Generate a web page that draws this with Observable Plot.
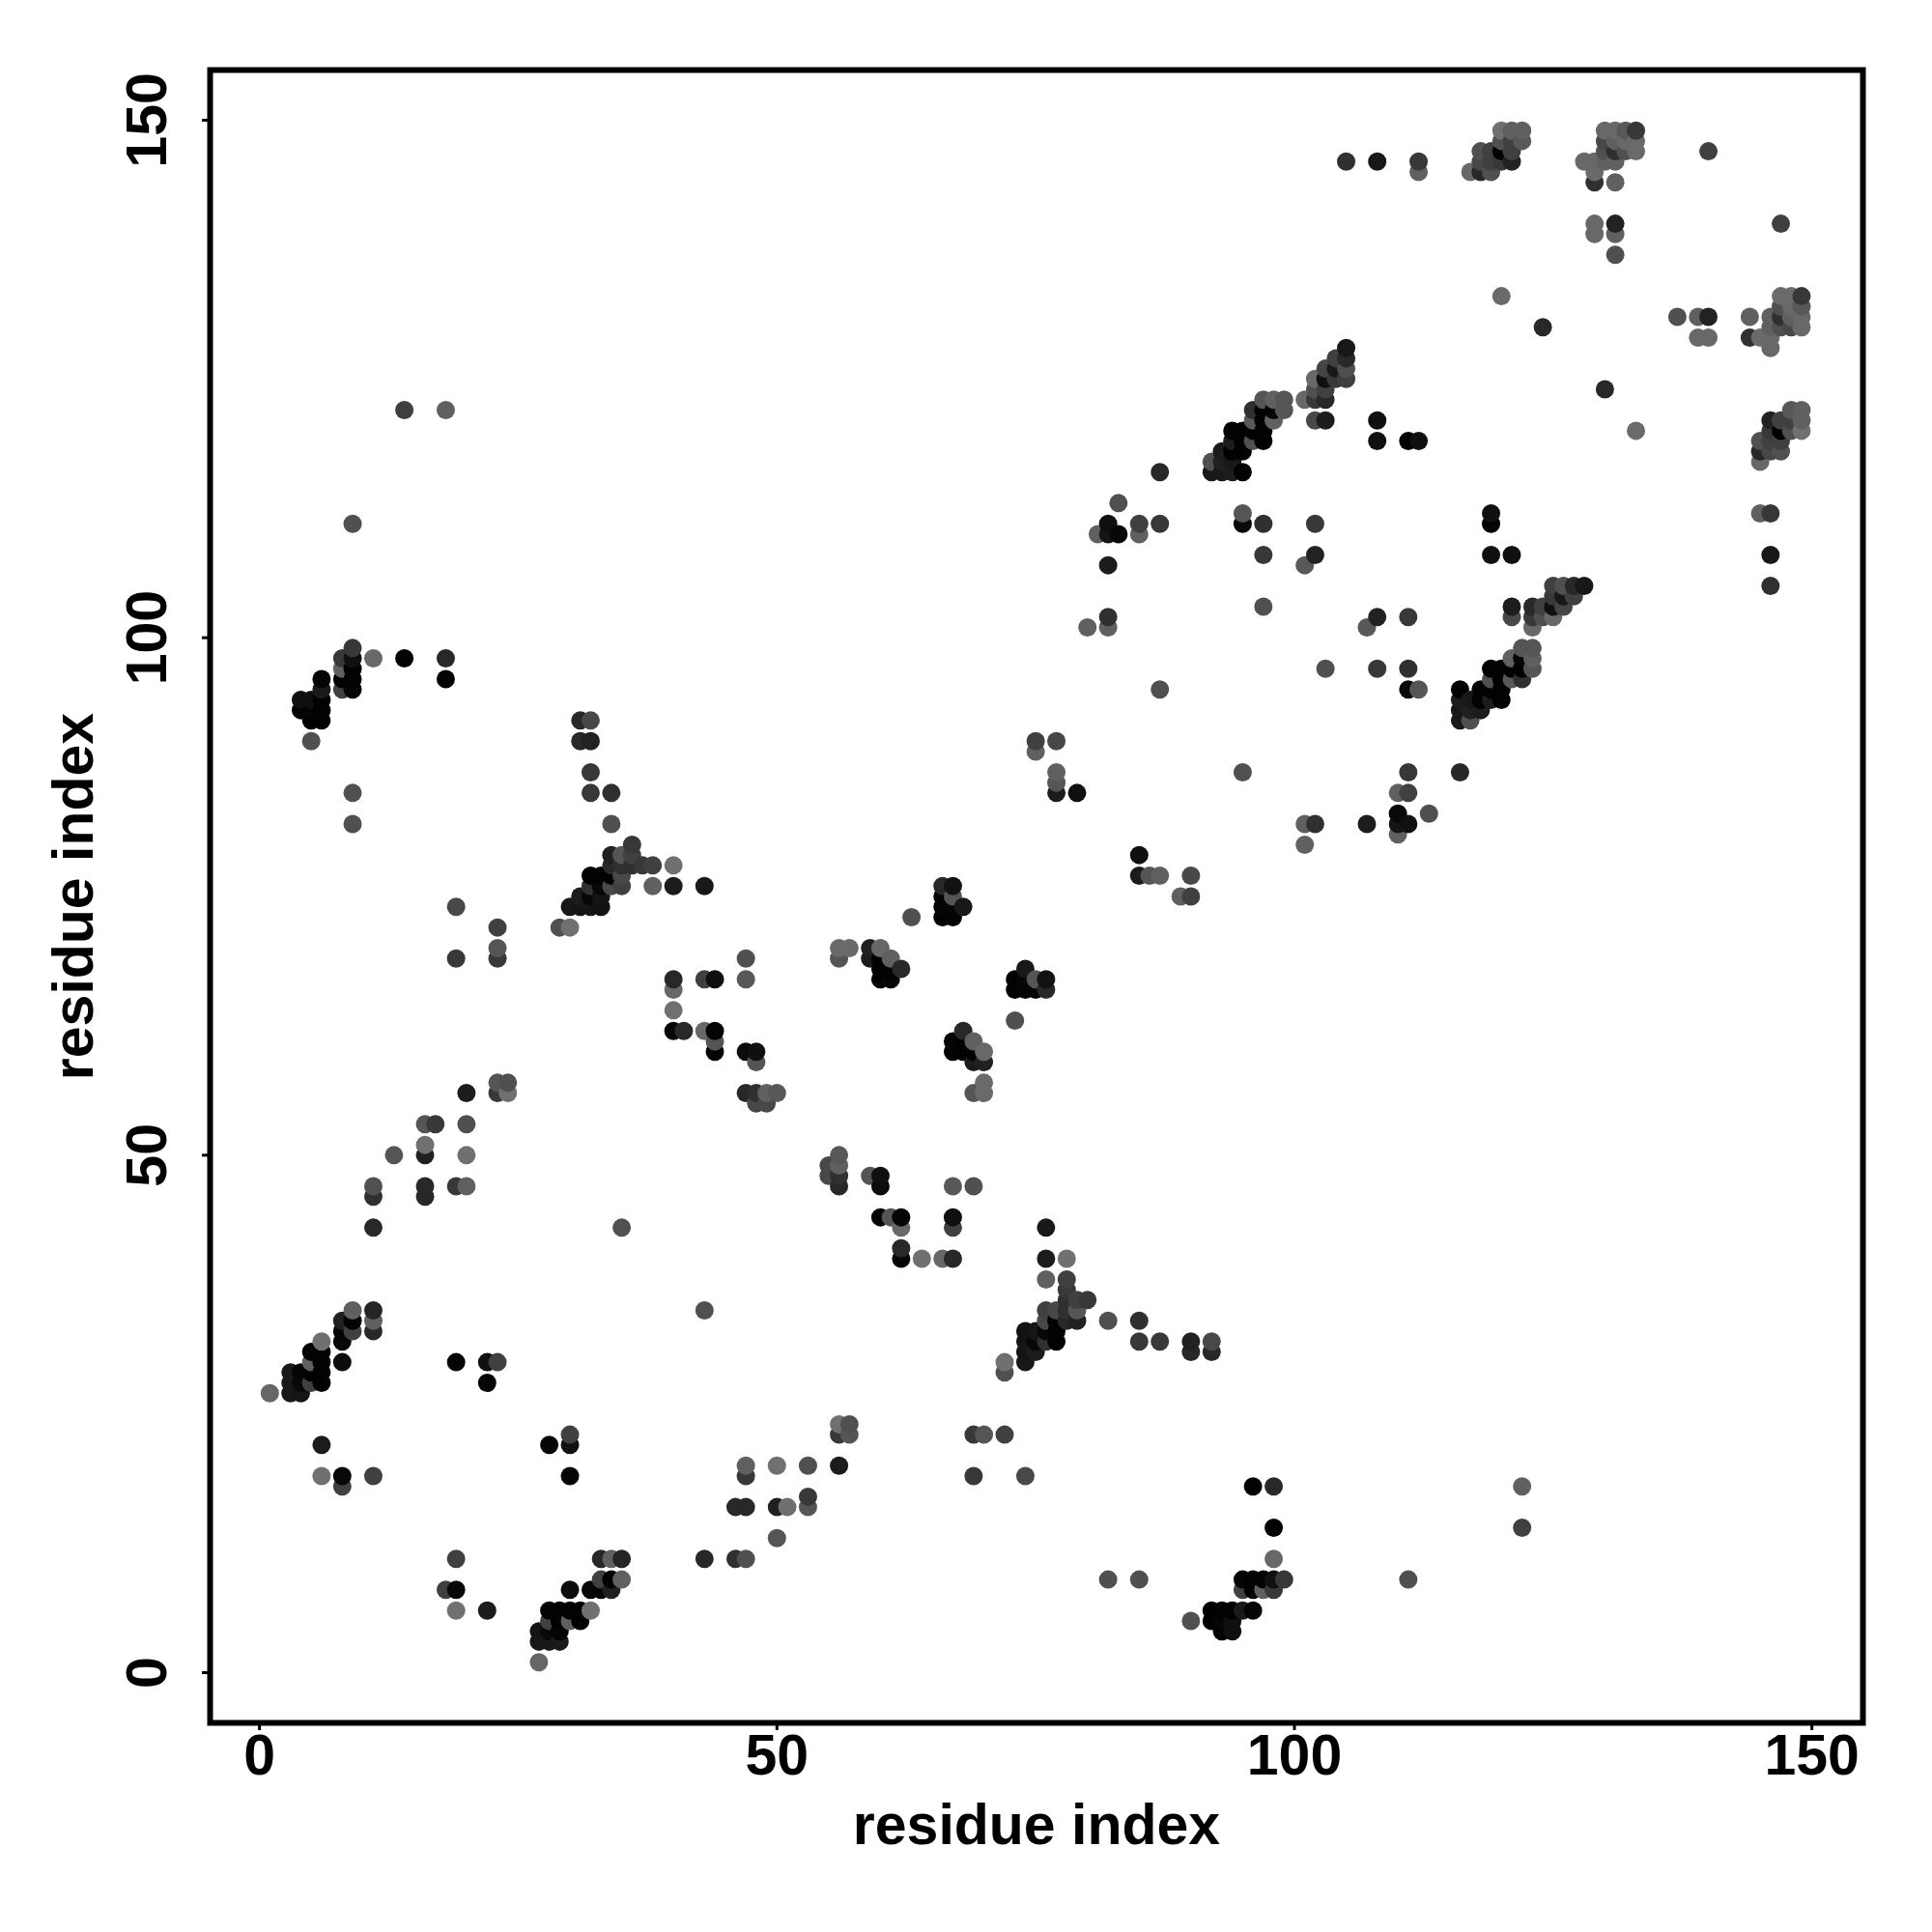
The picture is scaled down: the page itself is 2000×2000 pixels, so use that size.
<!DOCTYPE html>
<html>
<head>
<meta charset="utf-8">
<style>html,body{margin:0;padding:0;background:#fff}</style>
<script src="https://cdn.jsdelivr.net/npm/d3@7"></script>
<script src="https://cdn.jsdelivr.net/npm/@observablehq/plot@0.6"></script>
</head>
<body>
<div id="chart"></div>
<script>
// Each entry: [residue i, residue j, grey level]. The map is symmetric, so only i<j is listed.
const contactsHelixA = [
[1,27,0x66],[3,27,0x18],[3,28,0x18],[3,29,0x1a],[4,27,0x15],[4,28,0x08],[4,29,0x05],[5,28,0x40],[5,29,0x02],[5,30,0x60],[5,31,0x02],
[6,28,2],[6,29,2],[6,30,2],[6,31,2],[6,32,0x70],[8,30,0x0c],[8,32,8],[8,33,5],[8,34,0x20],[9,33,0x40],[9,34,2],[9,35,0x60],
[11,33,0x28],[11,34,0x60],[11,35,0x25],[6,19,0x70],[6,22,0x1c],[8,18,0x40],[8,19,8],[11,19,0x40],[19,30,5],[22,28,5],[22,30,0x10],[23,30,0x40],[35,43,0x50]
];
const contactsStrands = [
[11,43,0x28],[11,46,0x30],[11,47,0x50],[13,50,0x55],[16,46,0x28],[16,47,0x28],[16,50,0x20],[16,51,0x70],[16,53,0x55],[17,53,0x38],
[19,47,0x38],[20,47,0x60],[20,50,0x70],[20,53,0x50],[20,56,0x1c],[23,56,0x38],[23,57,0x55],[24,56,0x70],[24,57,0x50]
];
const contactsFar = [
[19,69,0x38],[19,74,0x48],[23,69,0x38],[23,70,0x55],[23,72,0x40],[9,82,0x50],[9,85,0x50],[9,111,0x50],[14,122,0x40],[18,122,0x60],
[14,98,2],[18,96,2],[18,98,0x28],[11,98,0x68],[5,90,0x50],[4,93,2],[4,94,0x10],[5,92,0],[5,93,5],[5,94,0x10],
[6,92,0],[6,93,2],[6,94,2],[6,95,0x1a],[6,96,5],[8,95,0x40],[8,96,2],[8,97,0x60],[8,98,0x38],[9,95,5],[9,96,2],[9,97,2],[9,98,0x10],[9,99,0x38]
];
const contactsHelixB = [
[29,72,0x50],[30,72,0x70],[30,74,0x18],[31,74,0x15],[31,75,0x1c],[32,74,0x15],[32,75,8],[32,76,0x30],[32,77,2],[33,74,0x12],[33,75,0x15],[33,76,8],[33,77,2],
[34,76,0x48],[34,77,2],[34,78,0x28],[34,79,0x20],[35,76,0x40],[35,77,0x48],[35,78,0x30],[35,79,0x55],[36,78,0x30],[36,79,0x40],[36,80,0x38],[37,78,0x38],
[38,76,0x60],[38,78,0x40],[40,76,0x1c],[40,78,0x70],[43,76,0x18],[34,82,0x50],[34,85,0x30],[32,85,0x38],[32,87,0x38],[32,90,0x22],[32,92,0x48],[31,90,0x28],[31,92,0x28]
];
const contactsMiddle = [
[40,62,5],[40,64,0x70],[40,66,0x68],[40,67,0x28],[41,62,0x28],[43,62,0x68],[43,67,0x40],[44,60,5],[44,61,0x55],[44,62,5],[44,67,0x10],
[47,56,0x28],[47,60,0x0c],[47,67,0x58],[47,69,0x50],[48,55,0x48],[48,56,0x30],[48,59,0x55],[48,60,0x10],[49,55,0x48],[49,56,0x60],[50,56,0x58],
[56,69,0x55],[56,70,0x6a],[57,70,0x6a],[59,69,0x1c],[59,70,0x20],[60,67,2],[60,68,2],[60,69,2],[60,70,0x68],[61,67,5],[61,68,2],[61,69,0x60],[62,68,0x28],
[63,73,0x50],[66,73,2],[66,74,5],[66,75,5],[66,76,0x28],[67,73,2],[67,74,5],[67,75,0x55],[67,76,0x12],[68,74,0x18]
];
const contactsUpperMiddle = [
[75,89,0x60],[75,90,0x40],[77,85,0x1c],[77,86,0x55],[77,87,0x60],[77,90,0x48],[79,85,0x10],[87,95,0x50],[80,101,0x60],[82,101,0x60],[82,102,0x30],[82,107,0x1c],
[81,110,0x60],[82,110,0x15],[82,111,0x10],[83,110,0x08],[83,113,0x50],[85,110,0x60],[85,111,0x40],[87,111,0x38],[87,116,0x28],
[95,111,0x0a],[95,112,0x55],[97,103,0x50],[97,108,0x38],[97,111,0x30],[101,107,0x58],[102,108,0x22],[102,111,0x38],
[108,119,0x10],[108,121,0x10],[111,119,2],[112,119,0x10]
];
const contactsHelixC = [
[92,116,0x18],[92,117,0x50],[93,116,0x18],[93,117,0x20],[93,118,0x1c],[94,116,0x1c],[94,117,0x18],[94,118,2],[94,119,0x1c],[94,120,2],
[95,116,2],[95,118,2],[95,119,2],[95,120,2],[96,119,0x50],[96,120,2],[96,121,0x58],[96,122,0x30],[97,119,2],[97,120,2],[97,121,2],[97,122,2],[97,123,0x55],
[98,121,0x60],[98,122,5],[98,123,0x60],[99,122,0x55],[99,123,0x55],[101,123,0x68],[102,121,0x48],[102,123,0x38],[102,124,0x50],[102,125,0x68],
[103,121,0x1c],[103,123,0x28],[103,124,0x40],[103,125,0x10],[103,126,0x45],[104,125,0x38],[104,126,0x18],[104,127,0x40],[105,125,0x40],[105,126,0x50],[105,127,0x28],[105,128,0x18]
];
const contactsTerminal = [
[105,146,0x30],[108,146,0x18],[112,145,0x60],[112,146,0x38],[117,145,0x68],[118,145,0x28],[119,145,0x50],[118,146,0x48],[119,146,0x40],[120,146,0x38],[121,146,0x22],
[118,147,0x50],[119,147,0x40],[120,147,0],[121,147,0x40],[120,148,0x50],[121,148,0x40],[122,148,0x58],[120,149,0x70],[121,149,0x60],[122,149,0x60],
[129,139,0x68],[129,140,0x68],[131,137,0x50],[131,139,0x60],[131,140,0x22],[129,144,0x30],[131,144,0x60],[129,145,0x6a],[128,146,0x68],[129,146,0x68],[130,146,0x60],[131,146,0x60],
[130,147,0x50],[131,147,0x30],[132,147,0x50],[133,147,0x6a],[130,148,0x48],[131,148,0x60],[132,148,0x68],[133,148,0x6a],[130,149,0x68],[131,149,0x68],[132,149,0x58],[133,149,0x38],
[120,133,0x6a],[124,130,0x28],[140,147,0x40]
];
const tickValues = [0, 50, 100, 150];
const axisTitle = "residue index";

const contacts = [contactsHelixA, contactsStrands, contactsFar, contactsHelixB, contactsMiddle, contactsUpperMiddle, contactsHelixC, contactsTerminal].flat();
const points = d3.sort(
  contacts.flatMap(([i, j, g]) => [{x: i, y: j, g}, {x: j, y: i, g}]),
  d => d.x, d => d.y
);

const chart = Plot.plot({
  width: 2000,
  height: 2000,
  marginLeft: 217,
  marginRight: 72,
  marginTop: 72,
  marginBottom: 217,
  style: {fontFamily: "'Liberation Sans'", fontWeight: "bold", background: "#fff", color: "#000"},
  x: {domain: [-4.77, 154.93]},
  y: {domain: [-4.85, 154.85]},
  color: {type: "linear", domain: [0, 255], range: ["#000", "#fff"]},
  marks: [
    Plot.dot(points, {x: "x", y: "y", fill: "g", r: 9.5}),
    Plot.frame({stroke: "#000", strokeWidth: 6}),
    Plot.axisX({ticks: tickValues, tickFormat: d => d, tickSize: 8, strokeWidth: 3, tickPadding: 4, fontSize: 59, label: axisTitle, labelArrow: "none", labelAnchor: "center", labelOffset: 125}),
    Plot.axisY({ticks: tickValues, tickFormat: d => d, tickSize: 8, strokeWidth: 3, tickPadding: 38, fontSize: 59, tickRotate: -90, label: axisTitle, labelArrow: "none", labelAnchor: "center", labelOffset: 163})
  ]
});
document.getElementById("chart").appendChild(chart);
</script>
</body>
</html>
